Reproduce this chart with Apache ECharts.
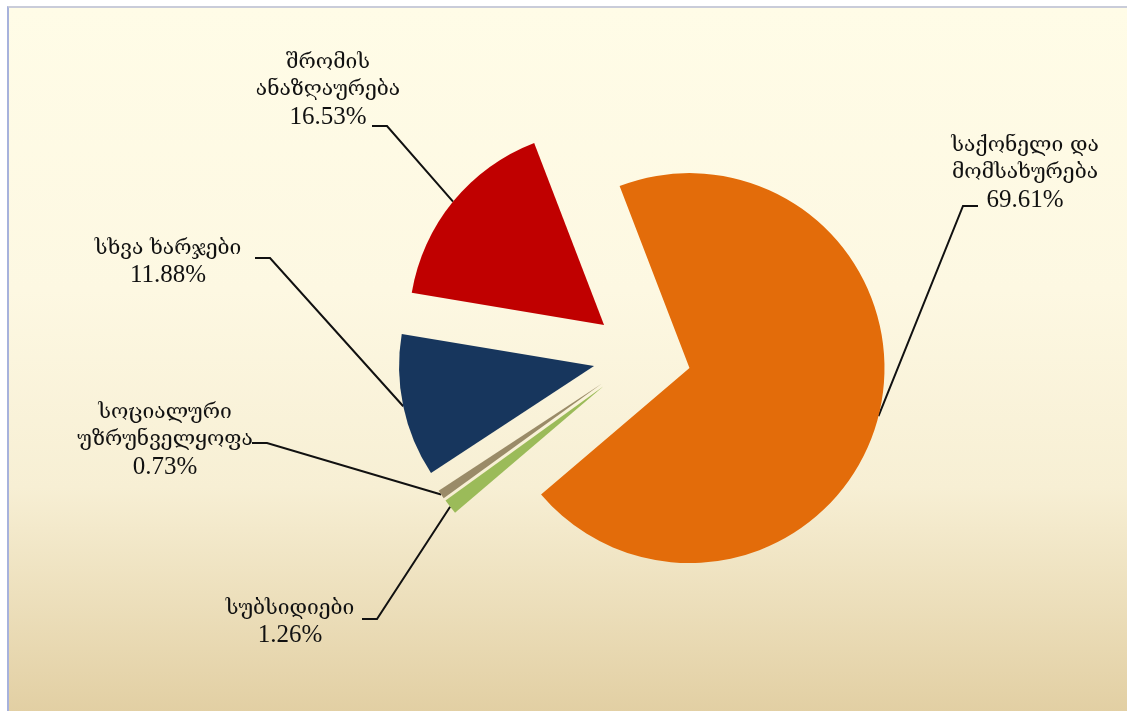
<!DOCTYPE html>
<html>
<head>
<meta charset="utf-8">
<script src="https://cdn.jsdelivr.net/npm/echarts@6/dist/echarts.min.js"></script>
<style>
    html, body { margin: 0; padding: 0; background: #ffffff; }
    #frame {
        position: absolute; left: 7px; top: 6px; width: 1120px; height: 705px;
        border-left: 2px solid #a7b2dc; border-top: 2px solid #c9ccd9;
        background: linear-gradient(to bottom, #fffce7 0%, #fdf8e2 40%, #f7efd4 68%, #e2cfa3 100%);
    }
    #pie { position: absolute; left: 0; top: 0; width: 1127px; height: 711px; }
</style>
</head>
<body>
<div id="frame"></div>
<div id="pie"></div>
<script>
    // ხარჯების სტრუქტურა
    var names = ['საქონელი და\nმომსახურება', 'სუბსიდიები', 'სოციალური\nუზრუნველყოფა', 'სხვა ხარჯები', 'შრომის\nანაზღაურება'];
    var values = [69.61, 1.26, 0.73, 11.88, 16.53];
    var colors = ['#e36c0a', '#9bbb59', '#9a8b68', '#17365d', '#c00000'];

    var pieCenter = [642, 356];
    var pieRadius = 195;
    var explode = 49;

    // label centres, and where the guide line meets the label (relative to centre)
    var labelPos = [[1025, 173], [290, 622], [165, 440], [168, 262], [328, 90]];
    var lineEnd = [[-47, 33], [72, -3], [87, 3], [87, -4], [44, 36]];

    var myChart = echarts.init(document.getElementById('pie'));

    var slices = [], labels = [];
    for (var i = 0; i < names.length; i++) {
        slices.push({ name: names[i], value: values[i], selected: true, itemStyle: { color: colors[i] } });
        labels.push({ name: names[i], value: values[i] });
    }

    var option = {
        animation: false,
        series: [
            {
                // exploded slices
                type: 'pie',
                center: pieCenter,
                radius: pieRadius,
                startAngle: 111,
                selectedMode: 'multiple',
                selectedOffset: explode,
                emphasis: { disabled: true },
                label: { show: false },
                labelLine: { show: false },
                data: slices
            },
            {
                // same pie, invisible, only for the labels
                type: 'pie',
                silent: true,
                center: pieCenter,
                radius: pieRadius,
                startAngle: 111,
                avoidLabelOverlap: false,
                emphasis: { disabled: true },
                itemStyle: { color: 'rgba(0,0,0,0)' },
                label: {
                    show: true,
                    position: 'outside',
                    formatter: function (p) {
                        return '{n|' + p.name.replace('\n', '}\n{n|') + '}\n{v|' + p.value.toFixed(2) + '%}';
                    },
                    rich: {
                        n: { fontFamily: 'DejaVu Serif', fontSize: 21, lineHeight: 27, color: '#111' },
                        v: { fontFamily: 'Liberation Serif', fontSize: 25, lineHeight: 27, color: '#111' }
                    }
                },
                labelLine: {
                    show: true,
                    length: 20,
                    length2: 14,
                    lineStyle: { color: '#111', width: 2 }
                },
                labelLayout: function (p) {
                    var i = p.dataIndex;
                    var cx = labelPos[i][0], cy = labelPos[i][1];
                    var a = p.labelLinePoints[0];
                    // push the anchor out with the exploded slice
                    var vx = a[0] - pieCenter[0], vy = a[1] - pieCenter[1];
                    var d = Math.sqrt(vx * vx + vy * vy);
                    var anchor = [a[0] + vx / d * explode, a[1] + vy / d * explode];
                    var ex = cx + lineEnd[i][0], ey = cy + lineEnd[i][1];
                    var mx = lineEnd[i][0] < 0 ? ex - 15 : ex + 15;
                    return {
                        x: cx, y: cy, align: 'center', verticalAlign: 'middle',
                        labelLinePoints: [anchor, [mx, ey], [ex, ey]]
                    };
                },
                data: labels
            }
        ]
    };
    myChart.setOption(option);
</script>
</body>
</html>
